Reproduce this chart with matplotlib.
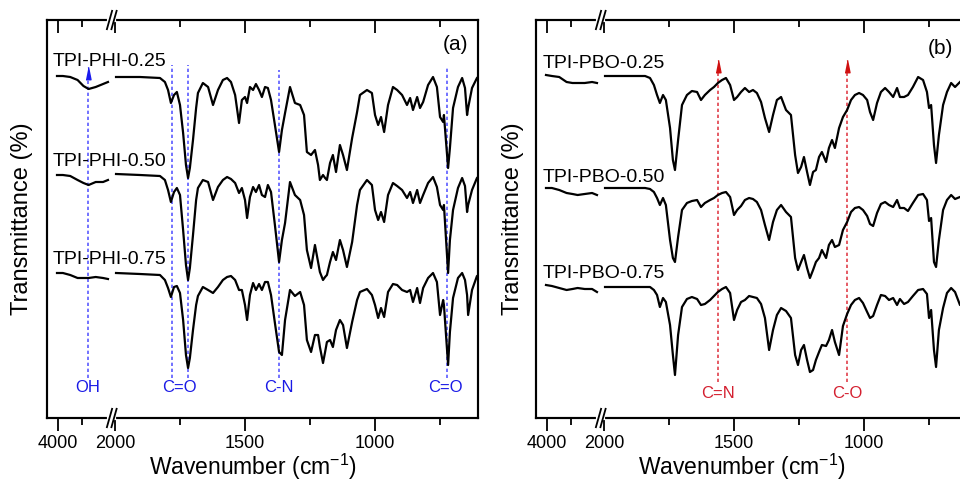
import numpy as np
import matplotlib.pyplot as plt

plt.rcParams['font.family'] = ['Liberation Sans', 'DejaVu Sans']
plt.rcParams['mathtext.default'] = 'regular'

# wavenumber grids (cm-1); left piece is the 4000-3000 window before the break
wn_left = [4020, 3900, 3750, 3600, 3480, 3375, 3230, 3080, 2980]
wn_a = [1996, 1904, 1827, 1808, 1796, 1785, 1773, 1762, 1750, 1738,
        1727, 1719, 1712, 1700, 1688, 1681, 1662, 1642, 1623, 1604,
        1585, 1569, 1554, 1538, 1523, 1512, 1500, 1492, 1481, 1469,
        1458, 1446, 1435, 1423, 1412, 1400, 1385, 1369, 1358, 1346,
        1327, 1308, 1288, 1273, 1262, 1246, 1231, 1219, 1212, 1200,
        1192, 1185, 1173, 1162, 1150, 1135, 1123, 1108, 1088, 1069,
        1058, 1031, 1012, 1000, 988, 977, 965, 950, 931, 915,
        896, 877, 865, 854, 838, 827, 815, 796, 777, 762,
        750, 738, 735, 719, 712, 700, 681, 665, 654, 646,
        642, 627, 608, 600]
wn_b = [1996, 1900, 1842, 1823, 1808, 1796, 1785, 1773, 1762, 1746,
        1735, 1727, 1715, 1700, 1681, 1662, 1642, 1627, 1612, 1592,
        1577, 1562, 1546, 1531, 1515, 1500, 1488, 1473, 1458, 1442,
        1427, 1412, 1396, 1381, 1365, 1350, 1335, 1319, 1300, 1281,
        1265, 1254, 1242, 1231, 1219, 1208, 1196, 1185, 1173, 1162,
        1146, 1135, 1123, 1112, 1096, 1081, 1065, 1050, 1035, 1019,
        1004, 988, 977, 965, 950, 935, 919, 904, 888, 873,
        862, 846, 831, 812, 792, 773, 758, 750, 742, 731,
        723, 712, 696, 681, 665, 650, 631, 615]

# transmittance (a.u., curves stacked as in the figure)
phi25_left = [344, 344, 343, 340, 334, 331, 333, 336, 338]
phi50_left = [245, 245, 244, 240, 237, 235, 238, 238, 240]
phi75_left = [147, 147, 145, 142, 142, 142, 143, 142, 141]
phi25 = [343, 343, 342, 338, 330, 317, 325, 328, 315, 287,
         255, 242, 252, 280, 312, 327, 337, 333, 315, 330,
         340, 342, 338, 325, 297, 320, 323, 317, 333, 330,
         336, 330, 323, 333, 332, 320, 295, 268, 290, 307,
         333, 317, 315, 305, 268, 265, 270, 255, 240, 245,
         242, 240, 257, 265, 248, 275, 265, 250, 282, 308,
         325, 330, 327, 305, 295, 303, 288, 315, 333, 330,
         325, 315, 322, 310, 323, 312, 318, 335, 343, 333,
         303, 298, 305, 252, 272, 312, 333, 342, 332, 305,
         312, 332, 342, 344]
phi50 = [246, 245, 244, 240, 230, 218, 228, 232, 225, 190,
         155, 140, 152, 185, 220, 232, 240, 238, 220, 233,
         240, 243, 241, 237, 227, 232, 220, 202, 223, 233,
         228, 235, 225, 223, 235, 228, 195, 158, 180, 197,
         238, 225, 220, 205, 170, 152, 175, 158, 148, 140,
         143, 145, 158, 168, 160, 180, 170, 153, 178, 215,
         230, 240, 235, 210, 200, 208, 198, 225, 237, 234,
         230, 222, 228, 217, 230, 217, 225, 237, 243, 233,
         215, 210, 215, 147, 180, 210, 232, 242, 234, 208,
         215, 230, 242, 244]
phi75 = [147, 146, 145, 140, 132, 123, 133, 134, 127, 100,
         65, 52, 62, 90, 115, 124, 133, 130, 127, 133,
         140, 143, 144, 140, 130, 130, 115, 100, 125, 137,
         130, 136, 130, 138, 138, 125, 97, 68, 65, 100,
         130, 124, 128, 115, 80, 68, 85, 85, 73, 57,
         68, 78, 80, 73, 90, 100, 95, 72, 98, 120,
         128, 131, 125, 115, 102, 112, 103, 128, 136, 135,
         130, 128, 130, 118, 132, 117, 132, 142, 147, 138,
         105, 120, 115, 55, 88, 122, 142, 147, 140, 125,
         105, 130, 144, 145]

pbo25_left = [345, 344, 343, 338, 337, 337, 337, 338, 337]
pbo50_left = [232, 232, 230, 227, 226, 225, 226, 227, 225]
pbo75_left = [135, 134, 132, 130, 131, 132, 131, 131, 128]
pbo25 = [344, 344, 344, 342, 335, 325, 317, 325, 320, 292,
         260, 250, 280, 315, 325, 329, 328, 320, 325, 330,
         333, 337, 340, 342, 335, 320, 323, 328, 332, 328,
         330, 327, 318, 302, 288, 305, 320, 323, 310, 305,
         265, 247, 253, 263, 248, 235, 248, 250, 263, 268,
         258, 272, 280, 272, 292, 303, 310, 320, 325, 327,
         325, 320, 308, 300, 317, 328, 332, 328, 323, 332,
         323, 323, 325, 333, 343, 340, 328, 312, 315, 275,
         257, 285, 315, 328, 337, 333, 338, 342]
pbo50 = [232, 232, 232, 231, 228, 222, 215, 222, 215, 180,
         162, 158, 183, 210, 217, 219, 220, 213, 217, 220,
         222, 225, 227, 228, 223, 205, 210, 214, 220, 222,
         221, 218, 210, 195, 180, 198, 210, 215, 208, 203,
         162, 150, 158, 165, 152, 142, 150, 158, 162, 170,
         162, 175, 180, 173, 175, 190, 198, 208, 212, 213,
         210, 204, 196, 194, 207, 216, 218, 215, 213, 220,
         212, 212, 209, 217, 225, 226, 220, 199, 202, 158,
         153, 180, 210, 220, 225, 221, 223, 225]
pbo75 = [133, 133, 133, 133, 130, 125, 113, 122, 118, 95,
         65, 45, 85, 113, 121, 123, 121, 115, 116, 120,
         124, 128, 131, 133, 127, 100, 110, 118, 120, 124,
         123, 122, 116, 102, 70, 90, 105, 112, 109, 102,
         65, 55, 70, 75, 60, 48, 50, 60, 68, 75,
         74, 80, 90, 78, 65, 94, 106, 115, 120, 122,
         117, 108, 102, 104, 115, 125, 124, 120, 122, 115,
         121, 116, 118, 124, 130, 131, 126, 102, 110, 70,
         53, 90, 112, 127, 132, 128, 115, 120]

labels_a = ['TPI-PHI-0.25', 'TPI-PHI-0.50', 'TPI-PHI-0.75']
labels_b = ['TPI-PBO-0.25', 'TPI-PBO-0.50', 'TPI-PBO-0.75']
label_y_a = [358, 258, 160]
label_y_b = [357, 243, 147]

# band assignments
lines_a = [3390, 1780, 1720, 1370, 725]
bands_a = ['OH', 'C=O', 'C-N', 'C=O']
bands_a_x = [3390, 1752, 1369, 728]
lines_b = [1562, 1065]
bands_b = ['C=N', 'C-O']

major = [4000, 2000, 1500, 1000]
minor = [3500, 1750, 1250, 750]


# broken wavenumber axis: compressed 4000-2900 piece, then 2000-600
def fwd(w):
    w = np.asarray(w, dtype=float)
    u = np.where(w >= 2900, 58 + (4000 - w) * 0.049,
                 np.where(w <= 2000, 115 + (2000 - w) * 0.26,
                          111.9 + (2900 - w) * (3.1 / 900)))
    return -u


def inv(v):
    u = -np.asarray(v, dtype=float)
    return np.where(u <= 111.9, 4000 - (u - 58) / 0.049,
                    np.where(u >= 115, 2000 - (u - 115) / 0.26,
                             2900 - (u - 111.9) * 900 / 3.1))


def setup(ax):
    for a in (ax, ax.twiny()):
        a.set_xscale('function', functions=(fwd, inv))
        a.set_xlim(4224, 604)
        a.set_xticks(major)
        a.set_xticks(minor, minor=True)
        for s in a.spines.values():
            s.set_linewidth(1.5)
    top = a
    ax.set_ylim(2, 400)
    ax.set_yticks([])
    ax.set_xticklabels([str(t) for t in major])
    ax.tick_params(axis='x', which='both', direction='out', width=1.3,
                   labelsize=13, pad=3)
    ax.tick_params(axis='x', which='major', length=9)
    ax.tick_params(axis='x', which='minor', length=5)
    top.tick_params(axis='x', which='both', direction='in', width=1.3,
                    labeltop=False)
    top.tick_params(axis='x', which='major', length=9)
    top.tick_params(axis='x', which='minor', length=5)
    # break marks on the top and bottom spines
    for y in (0, 1):
        top.plot([0.145, 0.1555], [y, y], color='white', lw=3,
                 transform=top.transAxes, clip_on=False, zorder=5)
        for xc in (0.145, 0.1555):
            top.plot([xc - 0.006, xc + 0.006], [y - 0.023, y + 0.023],
                     color='black', lw=1.3, transform=top.transAxes,
                     clip_on=False, zorder=6)
    ax.set_xlabel('Wavenumber (cm$^{-1}$)', fontsize=16.5, va='center')
    ax.xaxis.set_label_coords(0.477, -0.122)
    ax.set_ylabel('Transmittance (%)', fontsize=17, va='center')


fig = plt.figure(figsize=(9.6, 4.83), dpi=100)
ax_a = fig.add_axes([47 / 960, 65 / 483, 431 / 960, 398 / 483])
ax_b = fig.add_axes([536 / 960, 65 / 483, 431 / 960, 398 / 483])
setup(ax_a)
setup(ax_b)
ax_a.yaxis.set_label_coords(-0.058, 0.5)
ax_b.yaxis.set_label_coords(-0.053, 0.5)

arrow = [(-0.4, -1), (0.4, -1), (0, 1)]

# panel (a)
for yl, yr in [(phi25_left, phi25), (phi50_left, phi50), (phi75_left, phi75)]:
    ax_a.plot(wn_left, yl, color='black', lw=1.6)
    ax_a.plot(wn_a, yr, color='black', lw=1.6)
for lab, y in zip(labels_a, label_y_a):
    ax_a.text(4102, y, lab, fontsize=14, ha='left', va='center')
blue_line = '#5a5aff'
blue_txt = '#1a1ae6'
tops_a = [341, 355, 355, 350, 352]
ax_a.vlines(lines_a, 42, tops_a, colors=blue_line, lw=1.2,
            linestyles=(0, (2, 1.6)), zorder=1)
ax_a.plot([lines_a[0]], [347], marker=arrow, ms=9, color='#1a1aee',
          ls='none')
for lab, x in zip(bands_a, bands_a_x):
    ax_a.text(x, 32, lab, color=blue_txt, fontsize=12, ha='center',
              va='center')
ax_a.text(692, 376, '(a)', fontsize=15, ha='center', va='center')

# panel (b)
for yl, yr in [(pbo25_left, pbo25), (pbo50_left, pbo50), (pbo75_left, pbo75)]:
    ax_b.plot(wn_left, yl, color='black', lw=1.6)
    ax_b.plot(wn_b, yr, color='black', lw=1.6)
for lab, y in zip(labels_b, label_y_b):
    ax_b.text(4082, y, lab, fontsize=14, ha='left', va='center')
red_line = '#e0404a'
red_txt = '#d42030'
ax_b.vlines(lines_b, 38, 348, colors=red_line, lw=1.2,
            linestyles=(0, (2, 1.6)), zorder=1)
ax_b.plot(lines_b, [354, 354], marker=arrow, ms=9, color='#d01010',
          ls='none')
for lab, x in zip(bands_b, lines_b):
    ax_b.text(x, 27, lab, color=red_txt, fontsize=12, ha='center',
              va='center')
ax_b.text(708, 372, '(b)', fontsize=15, ha='center', va='center')

fig.savefig('out.png', dpi=100)
